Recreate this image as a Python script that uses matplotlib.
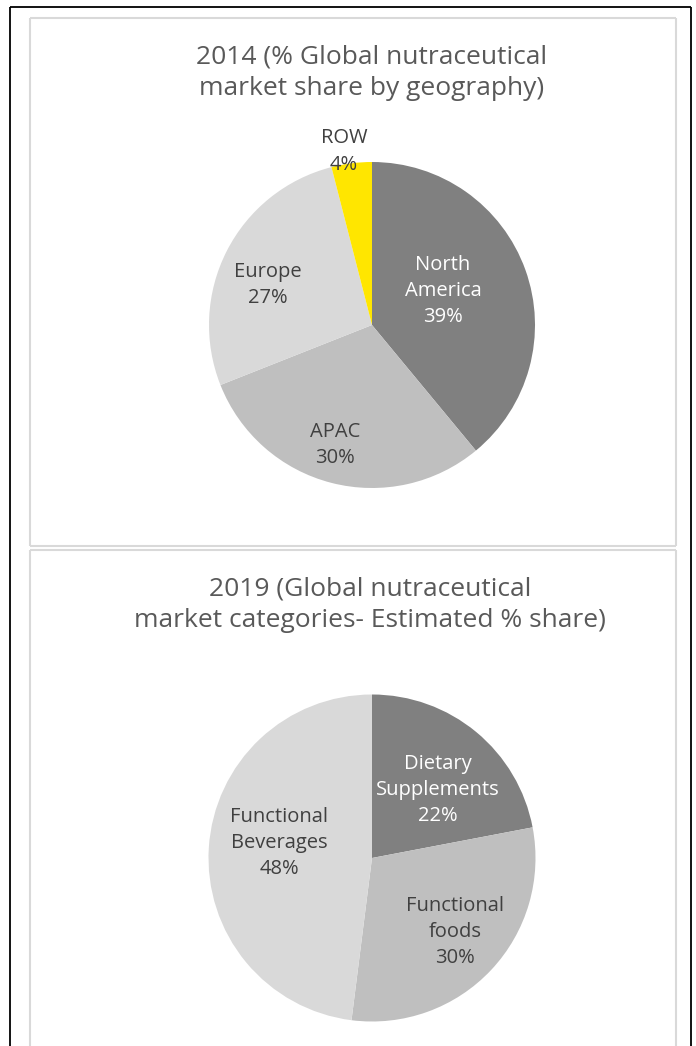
import matplotlib
matplotlib.use("Agg")
import matplotlib.pyplot as plt
from matplotlib.lines import Line2D
import numpy as np

# ---- data ----
title1_lines = ["2014 (% Global nutraceutical", "market share by geography)"]
geo_labels = ["North\nAmerica", "APAC", "Europe", "ROW"]
geo_values = [39, 30, 27, 4]

title2_lines = ["2019 (Global nutraceutical", "market categories- Estimated % share)"]
cat_labels = ["Dietary\nSupplements", "Functional\nfoods", "Functional\nBeverages"]
cat_values = [22, 30, 48]

# ---- style / layout ----
geo_colors = ["#808080", "#BFBFBF", "#D9D9D9", "#FFE600"]
geo_text_colors = ["white", "#404040", "#404040", "#404040"]
geo_label_dist = [0.483, 0.77, 0.683, 1.078]
geo_label_rot = [5.8, -2.7, 6.0, 2.0]   # degrees offset from wedge middle

cat_colors = ["#808080", "#BFBFBF", "#D9D9D9"]
cat_text_colors = ["white", "#404040", "#404040"]
cat_label_dist = [0.58, 0.681, 0.576]
cat_label_rot = [-4.6, 1.5, -5.6]

W, H = 696, 1046
plt.rcParams['font.family'] = ['Open Sans', 'DejaVu Sans']
fig = plt.figure(figsize=(W / 100, H / 100), dpi=100)
fig.patch.set_facecolor("white")


def fx(px):
    return px / W


def fy(py):
    return 1 - py / H


def hline(x0, x1, y, color, lw):
    fig.add_artist(Line2D([fx(x0), fx(x1)], [fy(y), fy(y)], color=color, lw=lw,
                          transform=fig.transFigure, solid_capstyle="butt"))


def vline(x, y0, y1, color, lw):
    fig.add_artist(Line2D([fx(x), fx(x)], [fy(y0), fy(y1)], color=color, lw=lw,
                          transform=fig.transFigure, solid_capstyle="butt"))


# outer black frame
hline(10, 691, 7, "black", 1.3)
vline(10, 7, H + 5, "black", 1.3)
vline(691, 7, H + 5, "black", 1.3)

# light grey panel borders
g = "#D9D9D9"
hline(30, 676, 18, g, 1.5)
hline(30, 676, 546, g, 1.5)
vline(30, 18, 546, g, 1.5)
vline(676, 18, 546, g, 1.5)
hline(30, 676, 550, g, 1.5)
vline(30, 550, H + 5, g, 1.5)
vline(676, 550, H + 5, g, 1.5)


def draw_pie(cx, cy, r, values, labels, colors, tcolors, dists, rots):
    ax = fig.add_axes([fx(cx - r), fy(cy + r), 2 * r / W, 2 * r / H])
    wedges, _ = ax.pie(values, colors=colors, startangle=90, counterclock=False,
                       wedgeprops=dict(linewidth=0))
    ax.set_xlim(-1, 1)
    ax.set_ylim(-1, 1)
    ax.set_aspect("equal")
    ax.axis("off")
    for w, lab, v, tc, d, rot in zip(wedges, labels, values, tcolors, dists, rots):
        mid = np.deg2rad((w.theta1 + w.theta2) / 2 + rot)
        ax.text(d * np.cos(mid), d * np.sin(mid), f"{lab}\n{v}%", ha="center", va="center",
                color=tc, fontsize=14.5, linespacing=1.42, clip_on=False)
    return ax


title_color = "#595959"
for i, line in enumerate(title1_lines):
    fig.text(fx(372), fy(63 + 32 * i), line, ha="center", va="baseline",
             fontsize=19, color=title_color)
for i, line in enumerate(title2_lines):
    fig.text(fx(370), fy(595 + 32 * i), line, ha="center", va="baseline",
             fontsize=19, color=title_color)

draw_pie(372, 325, 163, geo_values, geo_labels, geo_colors, geo_text_colors,
         geo_label_dist, geo_label_rot)
draw_pie(372, 858, 163.5, cat_values, cat_labels, cat_colors, cat_text_colors,
         cat_label_dist, cat_label_rot)

fig.savefig("out.png", dpi=100, facecolor="white")
